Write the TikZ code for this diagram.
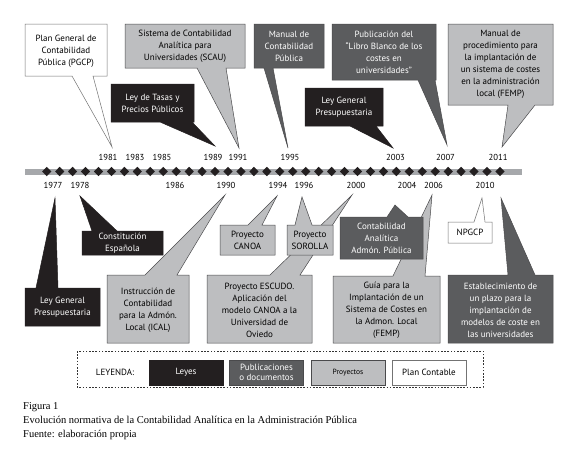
\documentclass[tikz,border=0pt]{standalone}
\usepackage{fontspec}
\setmainfont{PT Sans}
\newfontfamily\capfont{Liberation Serif}
\definecolor{lawc}{HTML}{231F20}
\definecolor{pubc}{HTML}{5B5C5E}
\definecolor{projc}{HTML}{BDBEC0}
\definecolor{barc}{HTML}{A6A8AB}
\definecolor{edgec}{HTML}{4A4A4C}
\newcommand\calldown[9]{\filldraw[#1] (#2,#3) -- (#4,#3) -- (#4,#5) -- (#7,#5) -- (#8,#9) -- (#6,#5) -- (#2,#5) -- cycle;}
\newcommand\callup[9]{\filldraw[#1] (#2,#5) -- (#2,#3) -- (#6,#3) -- (#8,#9) -- (#7,#3) -- (#4,#3) -- (#4,#5) -- cycle;}
\tikzset{
  lawbox/.style={fill=lawc, draw=lawc, line width=0.5pt},
  pubbox/.style={fill=pubc, draw=edgec, line width=0.5pt},
  projbox/.style={fill=projc, draw=edgec, line width=0.5pt},
  planbox/.style={fill=white, draw=black!55, line width=0.5pt},
  txt/.style={align=center, inner sep=0pt, font=\fontsize{9}{12}\selectfont},
  wtxt/.style={txt, text=white},
  yr/.style={inner sep=0pt, font=\fontsize{8.7}{10}\selectfont},
  tick/.style={fill=lawc, draw=none},
  legbox/.style={minimum width=74pt, minimum height=25pt, inner sep=1pt, align=center, font=\fontsize{9}{10.5}\selectfont},
  captxt/.style={anchor=base west, inner sep=0pt, font=\capfont\fontsize{10.5}{12}\selectfont}
}
\begin{document}
\begin{tikzpicture}[x=1pt, y=-1pt]
\useasboundingbox (0,0) rectangle (580,461);
\fill[white] (0,0) rectangle (580,461);
% timeline bar
\fill[barc] (25,168.5) rectangle (522,174.5);
\foreach \i in {0,...,35}{
  \pgfmathsetmacro\xx{46.7+12.95*\i}
  \fill[tick] (\xx-4.6,171.5) -- (\xx,166.8) -- (\xx+4.6,171.5) -- (\xx,176.2) -- cycle;
}
% year labels top
\foreach \x/\y in {108/1981,135/1983,162/1985,213/1989,238/1991,290/1995,395.5/2003,445.5/2007,498/2011}
  \node[yr] (y\y) at (\x,157) {\y};
% year labels bottom
\foreach \x/\y in {53/1977,80/1978,175/1986,226/1990,278/1994,304/1996,356/2000,407/2004,433.5/2006,485/2010}
  \node[yr] (y\y) at (\x,185.5) {\y};

% top callouts
\calldown{planbox}{25}{24}{107}{76}{72}{93}{112}{147}
\node[txt] (pgcp) at (66,51) {Plan General de\\Contabilidad\\Pública (PGCP)};
\calldown{lawbox}{111}{84}{194}{122}{160}{192}{215}{146}
\node[wtxt] (tasas) at (152.5,103) {Ley de Tasas y\\Precios Públicos};
\calldown{projbox}{125}{24}{245}{68}{197}{226}{239}{148}
\node[txt] (scau) at (185,46) {Sistema de Contabilidad\\Analítica para\\Universidades (SCAU)};
\calldown{pubbox}{254}{24}{324}{68}{264}{273}{288}{148}
\node[wtxt] (mcp) at (289,46) {Manual de\\Contabilidad\\Pública};
\calldown{pubbox}{332}{24}{436}{80}{418}{435}{447}{145}
\node[wtxt] (libro) at (384,52) {Publicación del\\“Libro Blanco de los\\costes en\\universidades”};
\calldown{lawbox}{305}{88}{383}{126}{350}{376}{393}{148}
\node[wtxt] (lgp1) at (344,107) {Ley General\\Presupuestaria};
\calldown{projbox}{448}{24}{553}{105}{508}{535}{502}{147}
\node[txt] (femp1) at (500.5,64.5) {Manual de\\procedimiento para\\la implantación de\\un sistema de costes\\en la administración\\local (FEMP)};

% bottom callouts
\callup{lawbox}{25}{288}{100}{326}{36}{58}{55}{198}
\node[wtxt] (lgp2) at (62.5,307) {Ley General\\Presupuestaria};
\callup{lawbox}{82}{231}{163}{255}{92}{117}{80}{196}
\node[wtxt] (ce) at (122.5,243) {Constitución\\Española};
\callup{projbox}{107}{275}{189}{343}{145}{177}{225}{195}
\node[txt] (ical) at (148,310) {Instrucción de\\Contabilidad\\para la Admón.\\Local (ICAL)};
\callup{projbox}{220}{225}{275}{255}{248}{262}{277}{196}
\node[txt] (canoa) at (247.5,240) {Proyecto\\CANOA};
\callup{projbox}{207}{275}{312}{343}{270}{300}{352}{195}
\node[txt] (escudo) at (259.5,310) {Proyecto ESCUDO.\\Aplicación del\\modelo CANOA a la\\Universidad de\\Oviedo};
\callup{projbox}{287}{225}{333}{255}{295}{312}{302}{197}
\node[txt] (sorolla) at (310,240) {Proyecto\\SOROLLA};
\callup{projbox}{333}{276}{440}{343}{393}{425}{432}{195}
\node[txt] (guia) at (386.5,310) {Guía para la\\Implantación de un\\Sistema de Costes en\\la Admon. Local\\(FEMP)};
\callup{pubbox}{340}{217}{423}{259}{387}{408}{395}{205}
\node[wtxt] (caap) at (381.5,238) {Contabilidad\\Analítica\\Admón. Pública};
\callup{planbox}{448}{222}{492}{243}{474}{485}{482}{198}
\node[txt] (npgcp) at (470,232.5) {NPGCP};
\callup{pubbox}{448}{275}{553}{343}{508}{535}{501}{198}
\node[wtxt] (estab) at (500.5,310) {Establecimiento de\\un plazo para la\\implantación de\\modelos de coste en\\las universidades};

% legend
\draw[black!80, line width=0.8pt, dash pattern=on 1.6pt off 1.6pt] (77,351) rectangle (483,387);
\node[inner sep=0pt, font=\fontsize{9}{10}\selectfont] (leyenda) at (115,372.5) {LEYENDA:};
\node[legbox, lawbox, text=white] (lleyes) at (186,372.5) {Leyes};
\node[legbox, pubbox, text=white] (lpub) at (266.5,372.5) {Publicaciones\\o documentos};
\node[legbox, projbox, font=\fontsize{7.5}{9}\selectfont] (lproy) at (348,372.5) {Proyectos};
\node[legbox, planbox] (lplan) at (429,372.5) {Plan Contable};

% caption
\node[captxt] (cap1) at (23,409) {Figura 1};
\node[captxt] (cap2) at (23,423) {Evolución normativa de la Contabilidad Analítica en la Administración Pública};
\node[captxt] (cap3) at (23,437) {Fuente: elaboración propia};
\end{tikzpicture}
\end{document}
